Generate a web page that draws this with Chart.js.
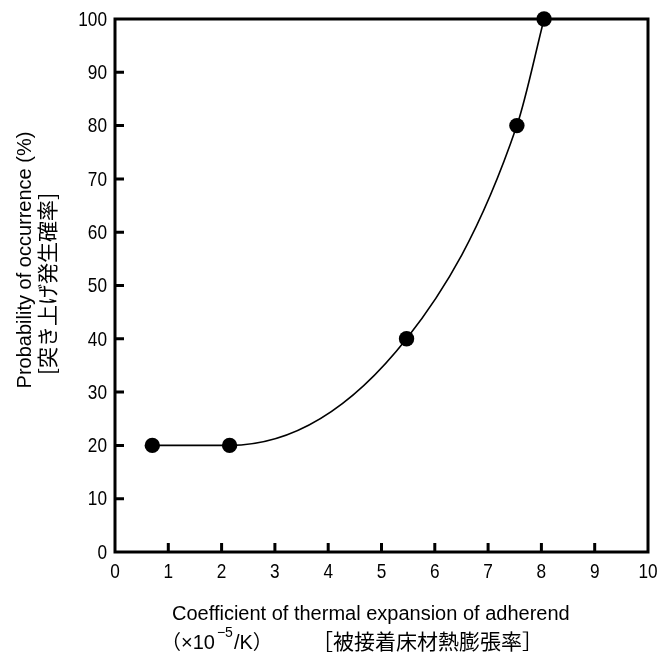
<!DOCTYPE html>
<html>
<head>
<meta charset="utf-8">
<script src="https://cdn.jsdelivr.net/npm/chart.js@4"></script>
<style>
  html, body { margin: 0; padding: 0; background: #fff; }
  #wrap { position: relative; width: 661px; height: 664px; }
</style>
</head>
<body>
<div id="wrap"><canvas id="c" width="661" height="664"></canvas></div>
<script>
// Thermal expansion coefficient of the adherend (×10^-5 /K)
const expansionCoef = [0.7, 2.15, 5.47, 7.54, 8.05];
// Probability of occurrence (%)
const occurrence = [20, 20, 40, 80, 100];
// Axis tick values
const xTicks = [0, 1, 2, 3, 4, 5, 6, 7, 8, 9, 10];
const yTicks = [0, 10, 20, 30, 40, 50, 60, 70, 80, 90, 100];

const xTitleMain = 'Coefficient of thermal expansion of adherend';
const xTitleUnit = ['（×10', '−5', '/K）'];
const xTitleJa = '［被接着床材熱膨張率］';
const yTitle = ['Probability of occurrence (%)', '[突き上げ発生確率]'];

const latinFont = '"Liberation Sans", Arial, "Noto Sans CJK JP", sans-serif';
const cjkFont = '"Noto Sans CJK JP", sans-serif';

// Draw a label horizontally condensed (narrow gothic look) around an anchor
function narrowText(ctx, text, x, y, align) {
  const squeeze = 0.82;
  ctx.save();
  ctx.translate(x, y);
  ctx.scale(squeeze, 1);
  ctx.textAlign = align;
  ctx.fillText(text, 0, 0);
  ctx.restore();
}

// Frame around the plot area, short inward tick marks, tick labels and axis titles
const framePlugin = {
  id: 'frame',
  beforeDatasetsDraw(chart) {
    const { ctx, chartArea: a, scales } = chart;
    ctx.save();
    ctx.strokeStyle = '#000';
    ctx.lineWidth = 3;
    ctx.strokeRect(a.left, a.top, a.right - a.left, a.bottom - a.top);
    ctx.beginPath();
    xTicks.slice(1, -1).forEach(v => {
      const px = scales.x.getPixelForValue(v);
      ctx.moveTo(px, a.bottom);
      ctx.lineTo(px, a.bottom - 9);
    });
    yTicks.slice(1, -1).forEach(v => {
      const py = scales.y.getPixelForValue(v);
      ctx.moveTo(a.left, py);
      ctx.lineTo(a.left + 9, py);
    });
    ctx.stroke();

    // tick labels
    ctx.fillStyle = '#000';
    ctx.font = '21px ' + latinFont;
    ctx.textBaseline = 'middle';
    xTicks.forEach(v => {
      narrowText(ctx, String(v), scales.x.getPixelForValue(v), a.bottom + 20, 'center');
    });
    yTicks.forEach(v => {
      narrowText(ctx, String(v), a.left - 8, scales.y.getPixelForValue(v) + 1, 'right');
    });
    ctx.restore();
  },
  afterDraw(chart) {
    const { ctx } = chart;
    ctx.save();
    ctx.fillStyle = '#000';
    ctx.textBaseline = 'alphabetic';
    ctx.textAlign = 'left';

    // x-axis title, first line
    ctx.font = '20px ' + latinFont;
    ctx.fillText(xTitleMain, 172, 620);

    // x-axis title, unit line with superscript exponent
    let x = 161;
    const base = 649;
    ctx.font = '20px ' + latinFont;
    ctx.fillText(xTitleUnit[0], x, base);
    x += ctx.measureText(xTitleUnit[0]).width + 2;
    ctx.font = '14px ' + latinFont;
    ctx.fillText(xTitleUnit[1], x, base - 12);
    x += ctx.measureText(xTitleUnit[1]).width + 1;
    ctx.font = '20px ' + latinFont;
    ctx.fillText(xTitleUnit[2], x, base);
    ctx.font = '21px ' + cjkFont;
    ctx.fillText(xTitleJa, 312, base);

    // y-axis title, two rotated lines
    ctx.textAlign = 'center';
    ctx.save();
    ctx.translate(31, 260);
    ctx.rotate(-Math.PI / 2);
    ctx.font = '20px ' + latinFont;
    ctx.textBaseline = 'alphabetic';
    ctx.fillText(yTitle[0], 0, 0);
    ctx.restore();
    ctx.save();
    ctx.translate(47, 284);
    ctx.rotate(-Math.PI / 2);
    ctx.font = '21px ' + cjkFont;
    ctx.textBaseline = 'middle';
    ctx.fillText(yTitle[1], 0, 0);
    ctx.restore();
    ctx.restore();
  }
};

new Chart(document.getElementById('c'), {
  type: 'scatter',
  data: {
    datasets: [{
      data: expansionCoef.map((x, i) => ({ x, y: occurrence[i] })),
      showLine: true,
      cubicInterpolationMode: 'monotone',
      borderColor: '#000',
      borderWidth: 1.6,
      backgroundColor: '#000',
      pointBackgroundColor: '#000',
      pointBorderColor: '#000',
      pointRadius: 7.7,
      pointBorderWidth: 0,
      clip: false
    }]
  },
  options: {
    responsive: false,
    animation: false,
    events: [],
    layout: { padding: { left: 0, top: 19, right: 13, bottom: 0 } },
    plugins: { legend: { display: false }, tooltip: { enabled: false } },
    scales: {
      x: {
        type: 'linear', min: 0, max: 10,
        afterFit(s) { s.height = 112; s.paddingLeft = 0; s.paddingRight = 0; },
        afterBuildTicks(s) { s.ticks = xTicks.map(v => ({ value: v })); },
        grid: { display: false, drawTicks: false },
        border: { display: false },
        ticks: { display: false }
      },
      y: {
        type: 'linear', min: 0, max: 100,
        afterFit(s) { s.width = 115; s.paddingTop = 0; s.paddingBottom = 0; },
        afterBuildTicks(s) { s.ticks = yTicks.map(v => ({ value: v })); },
        grid: { display: false, drawTicks: false },
        border: { display: false },
        ticks: { display: false }
      }
    }
  },
  plugins: [framePlugin]
});
</script>
</body>
</html>
